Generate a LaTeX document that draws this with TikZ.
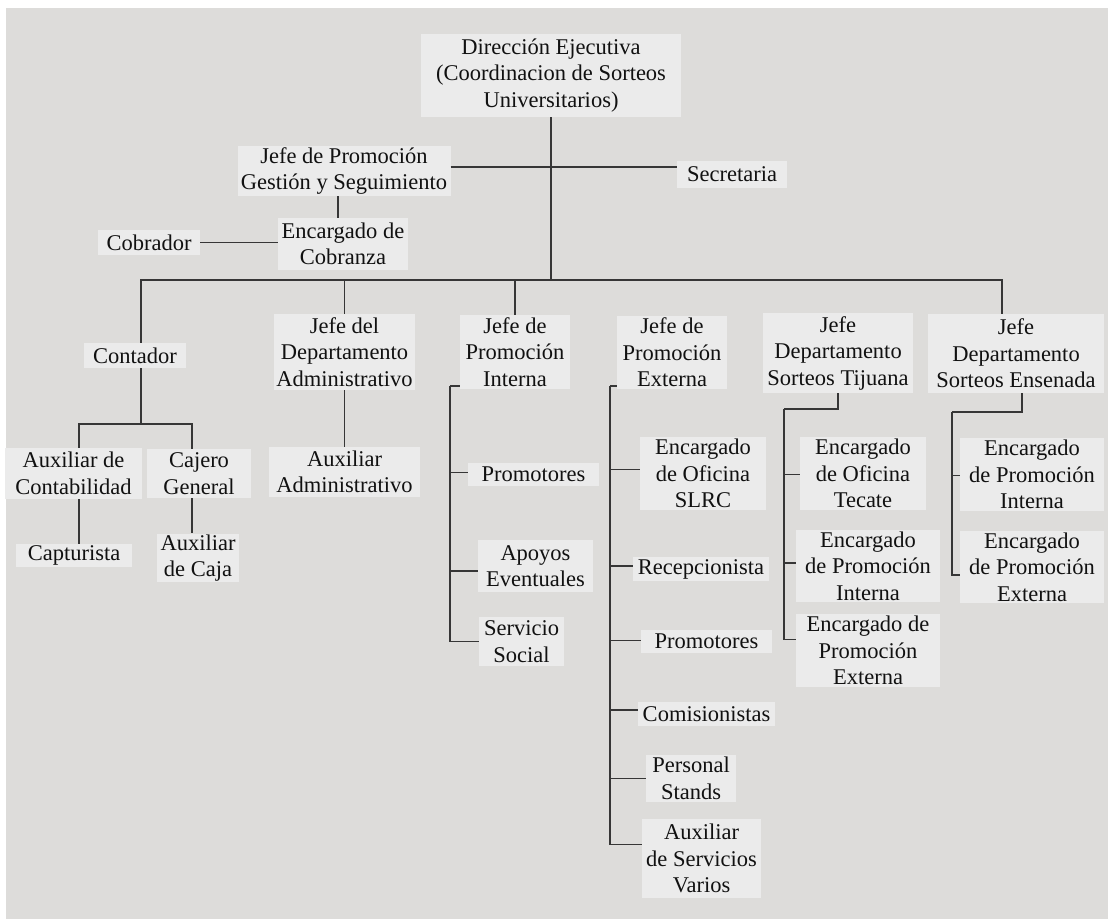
\documentclass[tikz,border=0pt]{standalone}
\usepackage{fontspec}
\setmainfont{Liberation Serif}
\definecolor{fondo}{HTML}{DDDCDA}
\definecolor{caja}{HTML}{EBEBEB}
\definecolor{linea}{HTML}{363636}
\definecolor{texto}{HTML}{111111}
\tikzset{
  puesto/.style={fill=caja, text=texto, align=center, inner xsep=2pt, inner ysep=1pt,
    font=\fontsize{22.5}{26.5}\selectfont},
  rama/.style={draw=linea, line width=1.6pt},
}
\begin{document}
\begin{tikzpicture}[x=1pt,y=-1pt]
  \useasboundingbox (0,0) rectangle (1108,919);
  \fill[white] (0,0) rectangle (1108,919);
  \fill[fondo] (6,8) rectangle (1108,919);

  \node[puesto, minimum width=260, minimum height=83] (dir) at (551,75.5) {Dirección Ejecutiva\\(Coordinacion de Sorteos\\Universitarios)};
  \node[puesto, minimum width=213, minimum height=50] (gestion) at (344,171) {Jefe de Promoción\\Gestión y Seguimiento};
  \node[puesto, minimum width=110, minimum height=27] (secre) at (732,174.5) {Secretaria};
  \node[puesto, minimum width=130, minimum height=52] (cobranza) at (343,244) {Encargado de\\Cobranza};
  \node[puesto, minimum width=102, minimum height=25] (cobrador) at (149,242.5) {Cobrador};

  \node[puesto, minimum width=102, minimum height=25] (contador) at (135,355.5) {Contador};
  \node[puesto, minimum width=137, minimum height=51] (auxcont) at (73.5,473.5) {Auxiliar de\\Contabilidad};
  \node[puesto, minimum width=104, minimum height=49] (cajero) at (199,473.5) {Cajero\\General};
  \node[puesto, minimum width=116, minimum height=23] (capturista) at (74,555.5) {Capturista};
  \node[puesto, minimum width=82, minimum height=46] (auxcaja) at (198,558) {Auxiliar\\de Caja};

  \node[puesto, minimum width=141, minimum height=76] (jefeadmin) at (344.5,352) {Jefe del\\Departamento\\Administrativo};
  \node[puesto, minimum width=151, minimum height=50] (auxadmin) at (344.5,472) {Auxiliar\\Administrativo};

  \node[puesto, minimum width=110, minimum height=74] (jefeint) at (515,352) {Jefe de\\Promoción\\Interna};
  \node[puesto, minimum width=131, minimum height=23] (promint) at (533.5,474.5) {Promotores};
  \node[puesto, minimum width=115, minimum height=52] (apoyos) at (535.5,566) {Apoyos\\Eventuales};
  \node[puesto, minimum width=85, minimum height=49] (servicio) at (521.5,641.5) {Servicio\\Social};

  \node[puesto, minimum width=110, minimum height=73] (jefeext) at (672,352.5) {Jefe de\\Promoción\\Externa};
  \node[puesto, minimum width=126, minimum height=73] (slrc) at (703,473.5) {Encargado\\de Oficina\\SLRC};
  \node[puesto, minimum width=136, minimum height=24] (recep) at (701,569) {Recepcionista};
  \node[puesto, minimum width=131, minimum height=23] (promext) at (706.5,641.5) {Promotores};
  \node[puesto, minimum width=137, minimum height=24] (comis) at (706.5,714) {Comisionistas};
  \node[puesto, minimum width=90, minimum height=47] (stands) at (691,778.5) {Personal\\Stands};
  \node[puesto, minimum width=119, minimum height=79] (varios) at (701.5,858.5) {Auxiliar\\de Servicios\\Varios};

  \node[puesto, minimum width=150, minimum height=80] (jefetij) at (838,353) {Jefe\\Departamento\\Sorteos Tijuana};
  \node[puesto, minimum width=126, minimum height=73] (tecate) at (863,473.5) {Encargado\\de Oficina\\Tecate};
  \node[puesto, minimum width=144, minimum height=72] (tijint) at (868,566) {Encargado\\de Promoción\\Interna};
  \node[puesto, minimum width=144, minimum height=73] (tijext) at (868,650.5) {Encargado de\\Promoción\\Externa};

  \node[puesto, minimum width=176, minimum height=79] (jefeens) at (1016,353.5) {Jefe\\Departamento\\Sorteos Ensenada};
  \node[puesto, minimum width=144, minimum height=73] (ensint) at (1032,474.5) {Encargado\\de Promoción\\Interna};
  \node[puesto, minimum width=144, minimum height=72] (ensext) at (1032,567) {Encargado\\de Promoción\\Externa};

  \coordinate (bus) at (550,280);
  \coordinate (lsec) at (550,167);
  \coordinate (bl) at (141,280);
  \coordinate (br) at (1002,280);
  \coordinate (cj) at (141,424);
  \coordinate (ac) at (79,424);
  \coordinate (cg) at (192,424);
  \coordinate (pi) at (450,386);
  \coordinate (pe) at (610,386);
  \coordinate (pt) at (784,409);
  \coordinate (pn) at (952,412);

  \draw[rama] (dir.south) -- (dir.south |- bus);
  \draw[rama] (gestion.east |- lsec) -- (secre.west |- lsec);
  \draw[rama] ([xshift=-6]gestion.south) -- ([xshift=-5]cobranza.north);
  \draw[rama] (cobrador.east) -- (cobrador.east -| cobranza.west);

  \draw[rama] (bl |- contador.north) -- (bl) -- (br) -- (br |- jefeens.north);
  \foreach \n in {jefeadmin,jefeint}
    \draw[rama] (\n.north) -- (\n.north |- bus);

  \draw[rama] (bl |- contador.south) -- (cj);
  \draw[rama] (ac |- auxcont.north) -- (ac) -- (cg) -- (cg |- cajero.north);
  \draw[rama] (ac |- auxcont.south) -- (ac |- capturista.north);
  \draw[rama] (cg |- cajero.south) -- (cg |- auxcaja.north);
  \draw[rama] (jefeadmin.south) -- (auxadmin.north);

  \draw[rama] (jefeint.west |- pi) -- (pi);
  \foreach \n/\s in {promint/2,apoyos/-5,servicio/0}
    \draw[rama] ([yshift=\s]\n.west) -| (pi);

  \draw[rama] (jefeext.west |- pe) -- (pe);
  \foreach \n/\s in {slrc/4,recep/3,promext/1,comis/4,stands/0,varios/14}
    \draw[rama] ([yshift=\s]\n.west) -| (pe);

  \draw[rama] (jefetij.south) |- (pt);
  \foreach \n/\s in {tecate/-1,tijint/3,tijext/11}
    \draw[rama] ([yshift=\s]\n.west) -| (pt);

  \draw[rama] ([xshift=6]jefeens.south) |- (pn);
  \foreach \n/\s in {ensint/-1,ensext/-8}
    \draw[rama] ([yshift=\s]\n.west) -| (pn);
\end{tikzpicture}
\end{document}
